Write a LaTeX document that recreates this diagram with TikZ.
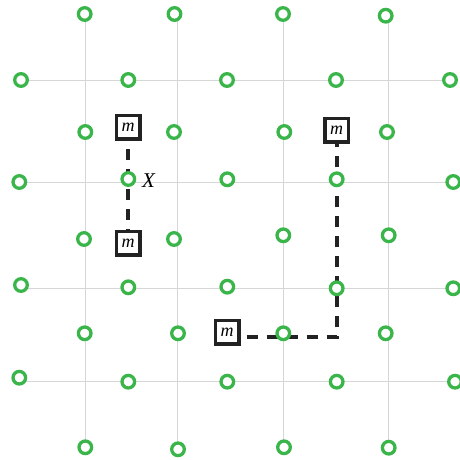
\documentclass[tikz,border=0pt]{standalone}
\usepackage{fontspec}
\setmainfont{Liberation Serif}
\definecolor{ringgreen}{RGB}{57,181,74}
\definecolor{darkline}{RGB}{34,34,34}
\definecolor{gridgray}{RGB}{214,214,214}
\begin{document}
\begin{tikzpicture}[x=1pt,y=-1pt,
  ring/.style={circle,draw=ringgreen,fill=white,line width=3.3pt,minimum size=12.6pt,inner sep=0pt},
  mbox/.style={rectangle,draw=darkline,fill=white,line width=3.5pt,minimum size=23.5pt,inner sep=0pt,
    font=\fontsize{18}{18}\selectfont\itshape},
  gridline/.style={draw=gridgray,line width=1pt},
  dashline/.style={draw=darkline,line width=4pt},
  lbl/.style={font=\fontsize{21}{21}\selectfont\itshape,inner sep=0pt}]
\useasboundingbox (0,0) rectangle (459,460);
% grid
\foreach \x [count=\i] in {85,177.5,283.8,388}{
  \coordinate (gt\i) at (\x,14); \coordinate (gb\i) at (\x,447);
  \draw[gridline] (gt\i) -- (gb\i);}
\foreach \y [count=\i] in {80,182,288,381.5}{
  \coordinate (gl\i) at (20,\y); \coordinate (gr\i) at (453,\y);
  \draw[gridline] (gl\i) -- (gr\i);}
% boxes
\node[mbox] (m1) at (128,127) {m};
\node[mbox] (m2) at (128,243) {m};
\node[mbox] (m3) at (336.7,130) {m};
\node[mbox] (m4) at (227,332) {m};
\coordinate (corner) at (336.7,337.3);
% dashed connectors
\draw[dashline,dash pattern=on 11pt off 9pt,shorten <=8.5pt] (m1.south) -- (m2.north);
\draw[dashline,dash pattern=on 11pt off 9pt,shorten <=6.2pt] (m4.east |- corner) -- (corner) -- (m3.south);
% rings
\foreach \n/\x/\y in {
  a1/84.7/14, a2/174.5/14, a3/283/14, a4/385.7/15.7,
  b1/21/80, b2/128.3/80, b3/227/80, b4/336/80, b5/450/80,
  c1/85.3/132, c2/174/132, c3/284.3/132, c4/387/132,
  d1/19.3/182, d2/128.3/179, d3/227.3/179.3, d4/336.7/179.3, d5/453.3/182,
  e1/84/239, e2/174/239, e3/283.3/235.3, e4/388.7/235.3,
  f1/21/285, f2/128.3/287.3, f3/227.3/286.7, f4/336.7/288.3, f5/453.3/288.3,
  g1/84.7/333.3, g2/178/333.3, g3/283.3/333.3, g4/385.7/333.3,
  h1/19.3/377.7, h2/128.3/381.7, h3/227.3/381.7, h4/336.7/381.7, h5/455/381.7,
  i1/85.3/447.3, i2/178/449.3, i3/284/447.3, i4/388.7/447.7}{
  \node[ring] (\n) at (\x,\y) {};}
% label
\node[lbl] (X) at (148.5,181) {X};
\end{tikzpicture}
\end{document}
